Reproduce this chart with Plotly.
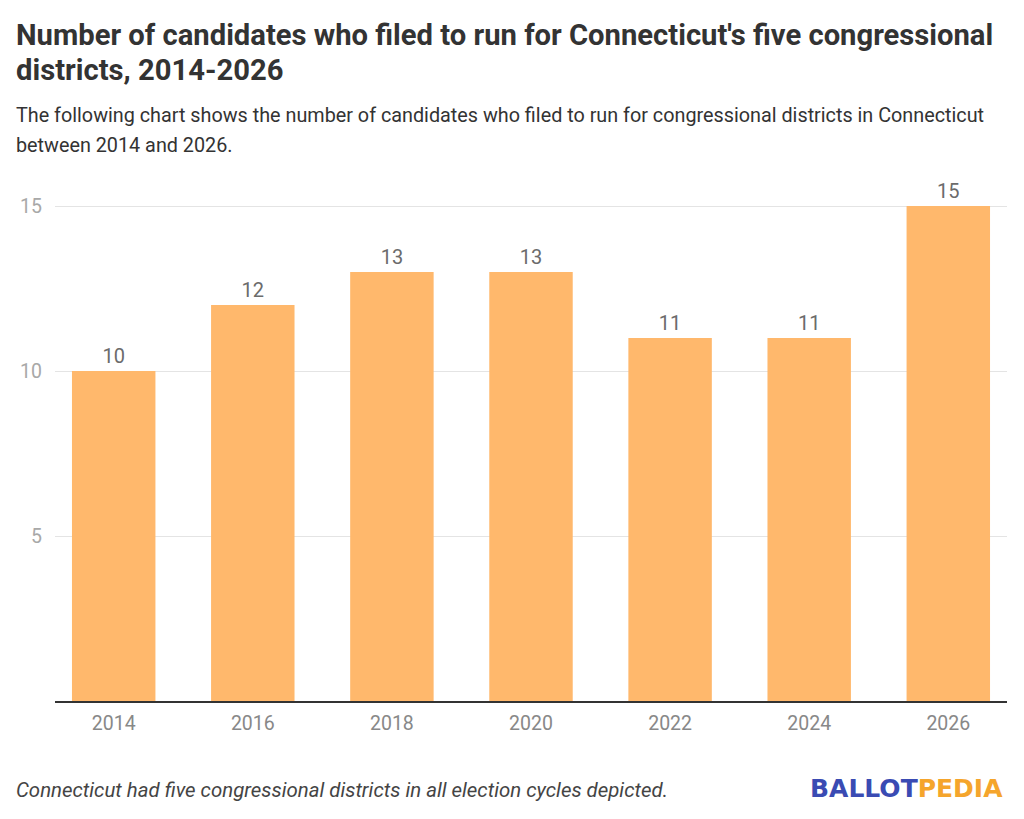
import plotly.graph_objects as go

# Candidates who filed for Connecticut's congressional districts
years = ['2014', '2016', '2018', '2020', '2022', '2024', '2026']
candidates = [10, 12, 13, 13, 11, 11, 15]
y_ticks = [5, 10, 15]

title_lines = ["Number of candidates who filed to run for Connecticut's five congressional",
               "districts, 2014-2026"]
subtitle_lines = ["The following chart shows the number of candidates who filed to run for congressional districts in Connecticut",
                  "between 2014 and 2026."]
note = "Connecticut had five congressional districts in all election cycles depicted."

# the page body adds an 8px margin, so work in figure pixels = page pixels - 8
OFF = 8
W, H = 1016, 811
left, right, top, bottom = 50 - OFF, 1007 - OFF, 173 - OFF, 701 - OFF


def px(x):
    # page pixel -> paper x
    return (x - OFF - left) / (right - left)


def py(y):
    # page pixel -> paper y
    return (bottom - (y - OFF)) / (bottom - top)


fig = go.Figure()

fig.add_trace(go.Bar(
    x=years,
    y=candidates,
    marker=dict(color='#ffb86c', line=dict(width=0)),
    text=[str(v) for v in candidates],
    textposition='outside',
    textfont=dict(family='Roboto', size=20, color='#6b6b6b'),
    cliponaxis=False,
    hoverinfo='x+y',
))

annotations = []
for i, line in enumerate(title_lines):
    annotations.append(dict(
        text='<b>' + line + '</b>', x=px(9), y=py(35 + 35 * i), xref='paper', yref='paper',
        xanchor='left', yanchor='middle', align='left', showarrow=False,
        font=dict(family='Roboto', size=29.2, color='#333333')))
for i, line in enumerate(subtitle_lines):
    annotations.append(dict(
        text=line, x=px(9), y=py(115 + 30 * i), xref='paper', yref='paper',
        xanchor='left', yanchor='middle', align='left', showarrow=False,
        font=dict(family='Roboto', size=19.8, color='#333333')))
annotations.append(dict(
    text='<i>' + note + '</i>', x=px(9), y=py(790), xref='paper', yref='paper',
    xanchor='left', yanchor='middle', align='left', showarrow=False,
    font=dict(family='Roboto', size=20.4, color='#444444')))
annotations.append(dict(
    text="<b><span style='color:#3a4bb3'>BALLOT</span><span style='color:#f5a52c'>PEDIA</span></b>",
    x=px(1005), y=py(788), xref='paper', yref='paper',
    xanchor='right', yanchor='middle', showarrow=False,
    font=dict(family='DejaVu Sans', size=25)))

fig.update_layout(
    width=W,
    height=H,
    margin=dict(l=left, r=W - right, t=top, b=H - bottom, pad=0),
    paper_bgcolor='white',
    plot_bgcolor='white',
    bargap=0.4,
    showlegend=False,
    font=dict(family='Roboto', color='#333333'),
    xaxis=dict(
        type='category',
        range=[-0.422, 6.422],
        showgrid=False,
        showline=True,
        linecolor='#333333',
        linewidth=1.5,
        ticks='',
        ticklabelstandoff=4,
        tickfont=dict(family='Roboto', size=19.5, color='#888888'),
        fixedrange=True,
    ),
    yaxis=dict(
        range=[0, 16],
        tickvals=y_ticks,
        showgrid=True,
        gridcolor='#e4e4e4',
        gridwidth=1,
        zeroline=False,
        showline=False,
        ticks='',
        ticklabelstandoff=12,
        tickfont=dict(family='Roboto', size=19.5, color='#a8a8a8'),
        fixedrange=True,
    ),
    annotations=annotations,
)

fig.write_html("out.html")
